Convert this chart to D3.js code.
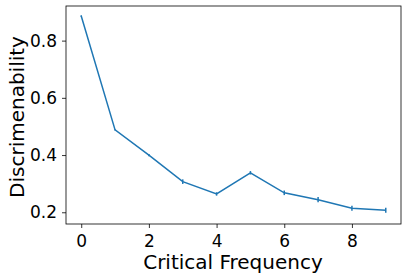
<!DOCTYPE html>
<html>
<head>
<meta charset="utf-8">
<script src="https://cdn.jsdelivr.net/npm/d3@7"></script>
<style>
  body { margin: 0; background: #fff; }
  svg text { font-family: "DejaVu Sans", sans-serif; fill: #000; }
</style>
</head>
<body>
<div id="chart"></div>
<script>
// critical frequency vs discrimenability, matplotlib look

const svgWidth = 407
const svgHeight = 279

const freqs = [0, 1, 2, 3, 4, 5, 6, 7, 8, 9]
const discr = [0.886, 0.488, 0.400, 0.307, 0.264, 0.338, 0.268, 0.244, 0.214, 0.207]
const errs = [0.003, 0.002, 0.004, 0.008, 0.006, 0.006, 0.008, 0.009, 0.009, 0.009]
const xTicks = [0, 2, 4, 6, 8]
const yTicks = [0.2, 0.4, 0.6, 0.8]

const plotL = 66, plotR = 401, plotT = 6, plotB = 224

const x = d3.scaleLinear().domain([-0.45, 9.45]).range([plotL, plotR])
const y = d3.scaleLinear().domain([0.159, 0.921]).range([plotB, plotT])

const svg = d3.select("#chart")
    .append("svg")
    .attr("width", svgWidth)
    .attr("height", svgHeight)

// axes
const xAxis = svg.append("g")
    .attr("transform", "translate(0," + plotB + ")")
    .call(d3.axisBottom(x).tickValues(xTicks).tickSize(4).tickPadding(7).tickFormat(d3.format("d")))
const yAxis = svg.append("g")
    .attr("transform", "translate(" + plotL + ",0)")
    .call(d3.axisLeft(y).tickValues(yTicks).tickSize(4).tickPadding(5).tickFormat(d3.format(".1f")))

;[xAxis, yAxis].forEach(function(g) {
    g.select(".domain").remove()
    g.selectAll(".tick line").attr("stroke", "#000").attr("stroke-width", 0.8)
    g.selectAll(".tick text").style("font-size", "17px").style("font-family", "DejaVu Sans")
})

// frame
svg.append("rect")
    .attr("x", plotL).attr("y", plotT)
    .attr("width", plotR - plotL).attr("height", plotB - plotT)
    .style("fill", "none").style("stroke", "#000").style("stroke-width", 0.8)

// error bars
svg.append("g").selectAll("line")
    .data(freqs)
    .enter().append("line")
    .attr("x1", function(d) { return x(d) })
    .attr("x2", function(d) { return x(d) })
    .attr("y1", function(d, i) { return y(discr[i] - errs[i]) })
    .attr("y2", function(d, i) { return y(discr[i] + errs[i]) })
    .style("stroke", "#1f77b4")
    .style("stroke-width", 1.5)

// line
const line = d3.line()
    .x(function(d, i) { return x(freqs[i]) })
    .y(function(d) { return y(d) })

svg.append("path")
    .attr("d", line(discr))
    .style("stroke", "#1f77b4")
    .style("stroke-width", 1.5)
    .style("fill", "none")

// labels
svg.append("text")
    .attr("x", 233)
    .attr("y", 269)
    .attr("text-anchor", "middle")
    .style("font-size", "20px")
    .text("Critical Frequency")

svg.append("text")
    .attr("transform", "translate(24,117) rotate(-90)")
    .attr("text-anchor", "middle")
    .style("font-size", "20px")
    .text("Discrimenability")
</script>
</body>
</html>
